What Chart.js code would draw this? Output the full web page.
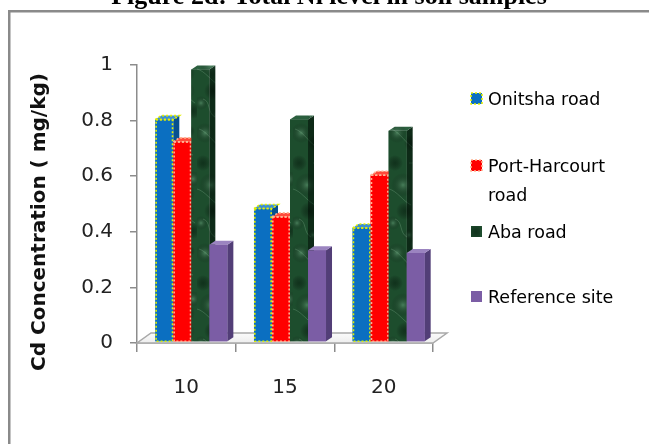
<!DOCTYPE html>
<html>
<head>
<meta charset="utf-8">
<script src="https://cdn.jsdelivr.net/npm/chart.js@4.4.1/dist/chart.umd.min.js"></script>
<style>
  html, body { margin: 0; padding: 0; background: #fff; }
  #wrap { position: relative; width: 649px; height: 444px; }
</style>
</head>
<body>
<div id="wrap"><canvas id="c" width="649" height="444"></canvas></div>
<script>
// ---- data ----
const pageTitle = 'Figure 2d: Total Ni level in soil samples';
const yAxisTitle = 'Cd Concentration ( mg/kg)';
const sites = ['10', '15', '20'];
const seriesNames = ['Onitsha road', 'Port-Harcourt road', 'Aba road', 'Reference site'];
const onitshaRoad = [0.80, 0.48, 0.41];
const portHarcourtRoad = [0.72, 0.45, 0.60];
const abaRoad = [0.98, 0.80, 0.76];
const referenceSite = [0.35, 0.33, 0.32];
const yTicks = [0, 0.2, 0.4, 0.6, 0.8, 1];

// ---- look ----
const FONT = '"DejaVu Sans", sans-serif';
const DEPTH_X = 6, DEPTH_Y = -4;     // column depth (side / top faces)
const SHIFT_X = 5, SHIFT_Y = -1;     // columns stand slightly back on the floor
const FLOOR_X = 14, FLOOR_Y = -10;   // floor depth

const canvas = document.getElementById('c');
const ctx0 = canvas.getContext('2d');

// green marble texture for the Aba road columns
function marble(base, light, dark, vein) {
  const c = document.createElement('canvas');
  c.width = 48; c.height = 120;
  const g = c.getContext('2d');
  g.fillStyle = base;
  g.fillRect(0, 0, 48, 120);
  const spot = (x, y, r, col) => {
    const rg = g.createRadialGradient(x, y, 0, x, y, r);
    rg.addColorStop(0, col);
    rg.addColorStop(1, 'rgba(0,0,0,0)');
    g.fillStyle = rg;
    g.fillRect(x - r, y - r, 2 * r, 2 * r);
  };
  [[8, 14, 10], [30, 40, 9], [14, 66, 12], [38, 92, 8], [4, 104, 7], [26, 6, 7], [44, 60, 8], [20, 116, 6]]
    .forEach(([x, y, r]) => spot(x, y, r, light));
  [[24, 24, 9], [6, 44, 8], [36, 74, 10], [16, 92, 9], [44, 112, 8], [40, 12, 6]]
    .forEach(([x, y, r]) => spot(x, y, r, dark));
  g.strokeStyle = vein;
  g.lineWidth = 1;
  [[2, 10, 26, 30], [20, 44, 44, 36], [0, 70, 22, 86], [26, 82, 46, 104], [6, 100, 18, 118]]
    .forEach(([x1, y1, x2, y2]) => {
      g.beginPath();
      g.moveTo(x1, y1);
      g.bezierCurveTo(x1 + 8, y1 + 2, x2 - 8, y2 - 4, x2, y2);
      g.stroke();
    });
  return ctx0.createPattern(c, 'repeat');
}

const abaFront = marble('#1d4d2d', 'rgba(105,165,125,0.55)', 'rgba(6,28,14,0.55)', 'rgba(150,200,165,0.25)');
const abaSide = marble('#0d2a17', 'rgba(60,110,80,0.45)', 'rgba(0,12,4,0.5)', 'rgba(90,140,110,0.2)');
const abaTop = marble('#2b5f3e', 'rgba(130,185,150,0.5)', 'rgba(10,40,20,0.4)', 'rgba(160,210,175,0.25)');

const faces = [
  { front: '#0b6fc1', side: '#06508f', top: '#3b8fd4', dots: '#e4f000' },
  { front: '#ff0000', side: '#b50000', top: '#ff4a3a', dots: '#ffb493' },
  { front: abaFront, side: abaSide, top: abaTop, dots: null },
  { front: '#7b5da5', side: '#523e77', top: '#9b84c0', dots: null }
];
const seriesValues = [onitshaRoad, portHarcourtRoad, abaRoad, referenceSite];

function dottedRect(ctx, pts, color) {
  ctx.save();
  ctx.strokeStyle = color;
  ctx.lineWidth = 1.6;
  ctx.setLineDash([2, 2]);
  ctx.beginPath();
  ctx.moveTo(pts[0][0], pts[0][1]);
  for (let i = 1; i < pts.length; i++) ctx.lineTo(pts[i][0], pts[i][1]);
  ctx.closePath();
  ctx.stroke();
  ctx.restore();
}

function drawColumn(ctx, el, f) {
  const { x, y, base, width } = el.getProps(['x', 'y', 'base', 'width'], true);
  const l = x - width / 2, r = x + width / 2;
  // side face
  ctx.beginPath();
  ctx.moveTo(r, y); ctx.lineTo(r + DEPTH_X, y + DEPTH_Y);
  ctx.lineTo(r + DEPTH_X, base + DEPTH_Y); ctx.lineTo(r, base);
  ctx.closePath();
  ctx.fillStyle = f.side; ctx.fill();
  // top face
  const topPts = [[l, y], [l + DEPTH_X, y + DEPTH_Y], [r + DEPTH_X, y + DEPTH_Y], [r, y]];
  ctx.beginPath();
  ctx.moveTo(...topPts[0]); ctx.lineTo(...topPts[1]); ctx.lineTo(...topPts[2]); ctx.lineTo(...topPts[3]);
  ctx.closePath();
  ctx.fillStyle = f.top; ctx.fill();
  // front face, drawn by the bar element itself
  el.draw(ctx);
  if (f.dots) {
    dottedRect(ctx, [[l + 0.8, y], [r - 0.8, y], [r - 0.8, base], [l + 0.8, base]], f.dots);
    dottedRect(ctx, topPts, f.dots);
  }
}

const columns3d = {
  id: 'columns3d',
  beforeDatasetsDraw(chart) {
    const { ctx, chartArea: a } = chart;
    const y0 = chart.scales.y.getPixelForValue(0);
    // floor
    ctx.save();
    ctx.beginPath();
    ctx.moveTo(a.left, y0);
    ctx.lineTo(a.right, y0);
    ctx.lineTo(a.right + FLOOR_X, y0 + FLOOR_Y);
    ctx.lineTo(a.left + FLOOR_X, y0 + FLOOR_Y);
    ctx.closePath();
    const fg = ctx.createLinearGradient(0, y0 + FLOOR_Y, 0, y0);
    fg.addColorStop(0, '#fbfbfb');
    fg.addColorStop(1, '#ededed');
    ctx.fillStyle = fg;
    ctx.fill();
    ctx.strokeStyle = '#a9a9a9';
    ctx.lineWidth = 1.5;
    ctx.stroke();
    ctx.restore();
    ctx.save();
    ctx.translate(SHIFT_X, SHIFT_Y);
  },
  afterDatasetsDraw(chart) {
    const ctx = chart.ctx;
    chart.data.datasets.forEach((ds, i) => {
      chart.getDatasetMeta(i).data.forEach(el => drawColumn(ctx, el, faces[i]));
    });
    ctx.restore();
  }
};

const decorations = {
  id: 'decorations',
  afterDraw(chart) {
    const ctx = chart.ctx;
    ctx.save();
    // frame
    ctx.strokeStyle = '#8a8a8a';
    ctx.lineWidth = 2.5;
    ctx.beginPath();
    ctx.moveTo(9.25, 460);
    ctx.lineTo(9.25, 11.25);
    ctx.lineTo(660, 11.25);
    ctx.stroke();
    // page title (runs off the top edge)
    ctx.fillStyle = '#000';
    ctx.font = 'bold 26px "Liberation Serif", serif';
    ctx.textAlign = 'center';
    ctx.textBaseline = 'alphabetic';
    ctx.fillText(pageTitle, 329, 4);
    // value axis title
    ctx.save();
    ctx.translate(40, 222);
    ctx.rotate(-Math.PI / 2);
    ctx.font = 'bold 20px ' + FONT;
    ctx.fillStyle = '#111';
    ctx.textAlign = 'center';
    ctx.textBaseline = 'middle';
    ctx.fillText(yAxisTitle, 0, 0);
    ctx.restore();
    // legend
    const rows = [105, 172, 238, 303];
    const lineGap = 29;
    ctx.font = '17.5px ' + FONT;
    ctx.textAlign = 'left';
    ctx.textBaseline = 'alphabetic';
    chart.data.datasets.forEach((ds, i) => {
      const by = rows[i];
      const f = faces[i];
      ctx.fillStyle = f.front;
      ctx.fillRect(471, by - 12, 11, 11);
      if (f.dots) dottedRect(ctx, [[471, by - 12], [482, by - 12], [482, by - 1], [471, by - 1]], f.dots);
      // wrap long labels
      const words = ds.label.split(' ');
      const lines = [];
      let cur = '';
      words.forEach(w => {
        const t = cur ? cur + ' ' + w : w;
        if (cur && ctx.measureText(t).width > 140) { lines.push(cur); cur = w; } else cur = t;
      });
      lines.push(cur);
      ctx.fillStyle = '#000';
      lines.forEach((ln, k) => ctx.fillText(ln, 488, by + k * lineGap));
    });
    ctx.restore();
  }
};

Chart.defaults.font.family = FONT;

new Chart(canvas, {
  type: 'bar',
  data: {
    labels: sites,
    datasets: seriesNames.map((name, i) => ({
      label: name,
      data: seriesValues[i],
      backgroundColor: faces[i].front,
      borderWidth: 0,
      barPercentage: 1.0,
      categoryPercentage: 0.73
    }))
  },
  options: {
    responsive: false,
    animation: false,
    devicePixelRatio: 1,
    layout: { padding: { left: 0, top: 65, right: 216, bottom: 0 } },
    plugins: { legend: { display: false }, tooltip: { enabled: false }, title: { display: false } },
    scales: {
      x: {
        grid: { display: true, drawOnChartArea: false, drawTicks: true, tickLength: 9, color: '#8c8c8c', lineWidth: 1.5, offset: true },
        border: { display: true, color: '#8c8c8c', width: 1.5 },
        ticks: { font: { size: 20, family: FONT }, color: '#222', padding: 24, maxRotation: 0 },
        afterFit(s) { s.height = 101; }
      },
      y: {
        min: 0,
        max: 1,
        afterBuildTicks(s) { s.ticks = yTicks.map(v => ({ value: v })); },
        grid: { display: true, drawOnChartArea: false, drawTicks: true, tickLength: 7, color: '#8c8c8c', lineWidth: 1.5 },
        border: { display: true, color: '#8c8c8c', width: 1.5 },
        ticks: { font: { size: 20, family: FONT }, color: '#222', padding: 17, callback: v => String(v) },
        afterFit(s) { s.width = 137; }
      }
    }
  },
  plugins: [columns3d, decorations]
});
</script>
</body>
</html>
